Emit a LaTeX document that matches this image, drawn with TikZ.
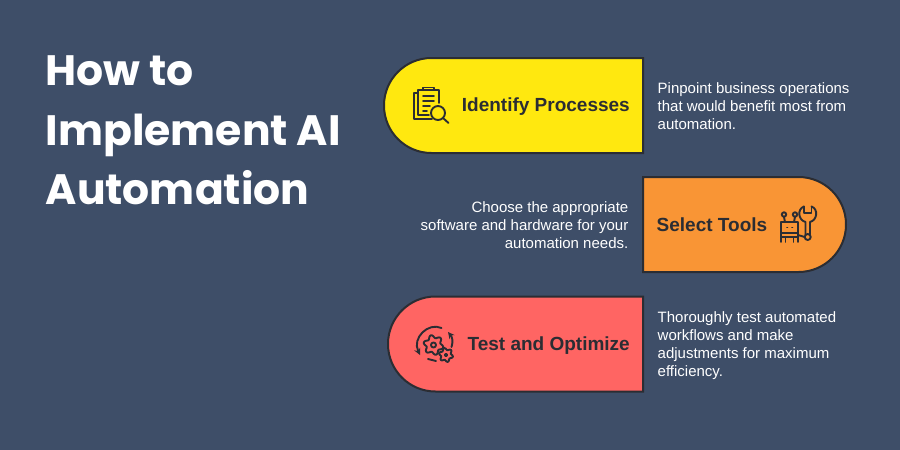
\documentclass[tikz,border=0pt]{standalone}
\usepackage{fontspec}
\setmainfont{Liberation Sans}
\newfontfamily\titlefont{Poppins}
\usetikzlibrary{positioning,shapes.misc}
\definecolor{slatebg}{HTML}{3E4E68}
\definecolor{inkdark}{HTML}{2B2D33}
\definecolor{pillyellow}{HTML}{FFE80F}
\definecolor{pillorange}{HTML}{F99535}
\definecolor{pillred}{HTML}{FF6563}
\newcommand{\gearicon}[3]{\draw[icon] plot[domain=0:360,samples=73] ({#1+#3*(1+0.18*sin(6*\x))*cos(\x)},{#2+#3*(1+0.18*sin(6*\x))*sin(\x)}) -- cycle;}
\tikzset{
  pill/.style={rounded rectangle,draw=inkdark,line width=2pt,inner sep=0pt,minimum height=95pt},
  pilltext/.style={font=\fontsize{19}{22}\selectfont\bfseries,text=inkdark,inner sep=0pt},
  desc/.style={font=\fontsize{15}{18}\selectfont,text=white,inner sep=0pt},
  icon/.style={draw=inkdark,line width=1.9pt,line cap=round,line join=round}
}

\begin{document}
\begin{tikzpicture}[x=1pt,y=-1pt]

\fill[slatebg] (0,0) rectangle (900,450);

\node[font=\titlefont\fontsize{42.5}{59.5}\selectfont\bfseries,text=white,align=left,anchor=north west,inner sep=0pt] (title) at (45.5,55.5) {How to\\Implement AI\\Automation};

\node[pill,fill=pillyellow,minimum width=259pt,rounded rectangle right arc=none] (identify) at (513.5,105.5) {};
\node[pill,fill=pillorange,minimum width=203pt,rounded rectangle left arc=none] (select) at (744.5,224.5) {};
\node[pill,fill=pillred,minimum width=255pt,rounded rectangle right arc=none] (test) at (515.5,344) {};

\node[pilltext,left=14pt of identify.east,yshift=-1.5pt] (identifylabel) {Identify Processes};
\node[pilltext,right=14.5pt of select.west,yshift=-0.5pt] (selectlabel) {Select Tools};
\node[pilltext,left=14pt of test.east,yshift=-2pt] (testlabel) {Test and Optimize};

\node[desc,align=left,right=13.5pt of identify.east,yshift=-1pt] (identifydesc) {Pinpoint business operations\\that would benefit most from\\automation.};
\node[desc,align=right,left=13.5pt of select.west,yshift=-0.5pt] (selectdesc) {Choose the appropriate\\software and hardware for your\\automation needs.};
\node[desc,align=left,right=13.5pt of test.east,yshift=-1.5pt] (testdesc) {Thoroughly test automated\\workflows and make\\adjustments for maximum\\efficiency.};

% clipboard
\draw[icon] (418,93) -- (414,93) -- (414,119) -- (432,119);
\draw[icon] (418,90) -- (439,90) -- (439,103);
\draw[icon] (418,90) -- (418,115) -- (429,115);
\draw[icon] (423,90) -- (423,87.5) -- (434,87.5) -- (434,90);
\foreach \ypos/\xend in {96/434,101/434,106/430,111/427}
  \draw[icon] (423,\ypos) -- (\xend,\ypos);
\draw[icon] (438,113) circle (7);
\draw[icon] (443,118) -- (448.5,123);

% robot
\draw[icon] (781,222) rectangle (798,233);
\draw[icon] (781,233) -- (781,242) (798,233) -- (798,242);
\draw[icon] (781,237) -- (798,237);
\draw[icon] (785.5,242) -- (785.5,237) (793.5,242) -- (793.5,237);
\draw[icon] (784,214.5) circle (2.2);
\draw[icon] (795,214.5) circle (2.2);
\draw[icon] (784,217) -- (785,222);
\draw[icon] (795,217) -- (794,222);
\draw[icon] (787,227.5) -- (787.5,227.5);
\draw[icon] (792,227.5) -- (792.5,227.5);
\draw[icon] (804,206.5) -- (804,213) -- (811.5,213) -- (811.5,206.5);
\draw[icon] (804,206.5) .. controls (797,209) and (798,220) .. (805.5,222) -- (805.5,234.5);
\draw[icon] (811.5,206.5) .. controls (818.5,209) and (817.5,220) .. (810,222) -- (810,234.5);
\draw[icon] (807.7,237) circle (3);
\draw[icon] (798,235) -- (804.7,237);

% gears
\gearicon{433.5}{345}{8.5}
\gearicon{446}{355}{6}
\draw[icon] (433.5,345) circle (2.5);
\draw[icon] (446,355) circle (1.3);
\draw[icon,->,>=stealth] (441.5,328) .. controls (428,322) and (412,338) .. (420,355);
\draw[icon,->,>=stealth] (451.5,347) .. controls (453.5,341) and (452,337) .. (448,332);
\draw[icon] (428,359) -- (436,361);

\end{tikzpicture}
\end{document}
